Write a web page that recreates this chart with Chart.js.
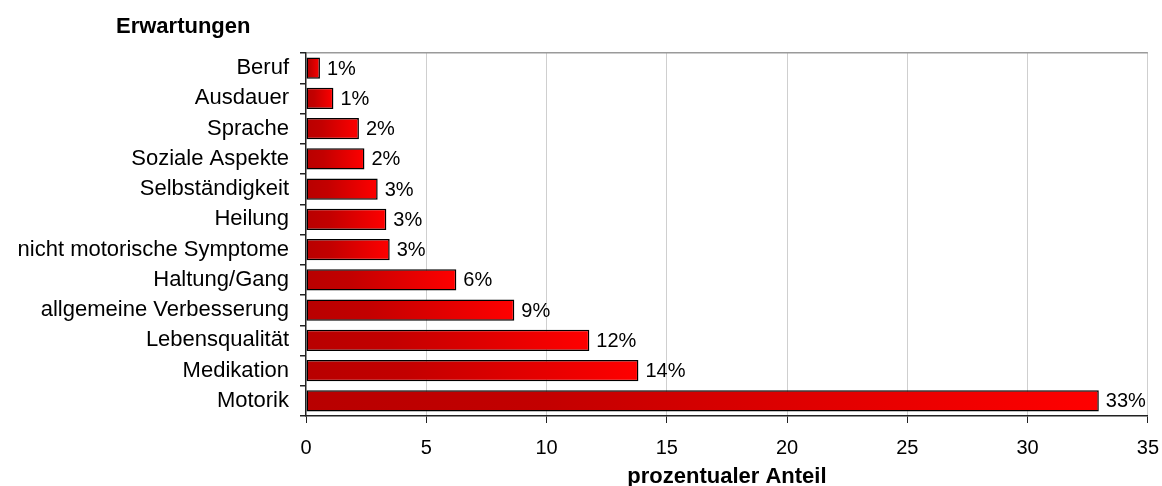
<!DOCTYPE html>
<html lang="de">
<head>
<meta charset="UTF-8" />
<script src="https://cdn.jsdelivr.net/npm/chart.js@4.4.0/dist/chart.umd.min.js"></script>
<title>Erwartungen</title>
<style>
  html, body { margin: 0; padding: 0; background: #fff; }
  #wrap { width: 1162px; height: 486px; }
</style>
</head>
<body>
<div id="wrap"><canvas id="chart" width="1162" height="486"></canvas></div>
<script>
// data (percent)
const categories = ['Beruf', 'Ausdauer', 'Sprache', 'Soziale Aspekte', 'Selbständigkeit', 'Heilung',
  'nicht motorische Symptome', 'Haltung/Gang', 'allgemeine Verbesserung', 'Lebensqualität', 'Medikation', 'Motorik'];
const anteil = [0.58, 1.14, 2.2, 2.43, 2.98, 3.34, 3.48, 6.25, 8.66, 11.78, 13.82, 32.96];
const chartTitle = 'Erwartungen';
const axisTitle = 'prozentualer Anteil';

const FONT = "Arial, 'Liberation Sans', sans-serif";

// gradient for each bar, dark on the left, bright red at the end
function barGradient(ctx) {
  const chart = ctx.chart;
  const x = chart.scales && chart.scales.x;
  if (!x || ctx.raw === undefined || !chart.chartArea) return '#d00000';
  const x0 = x.getPixelForValue(0);
  const x1 = x.getPixelForValue(ctx.raw);
  if (!isFinite(x0) || !isFinite(x1) || x1 - x0 < 1) return '#d00000';
  const g = chart.ctx.createLinearGradient(x0, 0, x1, 0);
  g.addColorStop(0, '#b80000');
  g.addColorStop(0.3, '#c30000');
  g.addColorStop(1, '#ff0000');
  return g;
}

// percent labels next to the bars
const valueLabels = {
  id: 'valueLabels',
  afterDatasetsDraw(chart) {
    const c = chart.ctx;
    const meta = chart.getDatasetMeta(0);
    c.save();
    c.font = '20px ' + FONT;
    c.fillStyle = '#000';
    c.textBaseline = 'middle';
    c.textAlign = 'left';
    meta.data.forEach((bar, i) => {
      c.fillText(Math.round(anteil[i]) + '%', bar.x + 7, bar.y + 1);
    });
    c.restore();
  }
};

// chart heading in the top left
const heading = {
  id: 'heading',
  afterDraw(chart) {
    const c = chart.ctx;
    c.save();
    c.font = 'bold 22px ' + FONT;
    c.fillStyle = '#000';
    c.textBaseline = 'middle';
    c.textAlign = 'left';
    c.fillText(chartTitle, 116, 27);
    c.restore();
  }
};

new Chart(document.getElementById('chart'), {
  type: 'bar',
  data: {
    labels: categories,
    datasets: [{
      data: anteil,
      backgroundColor: barGradient,
      borderColor: '#000',
      borderWidth: 1.5,
      borderSkipped: false,
      categoryPercentage: 1,
      barPercentage: 0.7
    }]
  },
  options: {
    indexAxis: 'y',
    responsive: false,
    animation: false,
    layout: { padding: { top: 53, right: 8, bottom: 0, left: 0 } },
    plugins: {
      legend: { display: false },
      tooltip: { enabled: false }
    },
    scales: {
      x: {
        min: 0,
        max: 35,
        // tick padding also pads the right edge, so the labels are pushed down with lineHeight
        ticks: { stepSize: 5, color: '#000', font: { family: FONT, size: 20, lineHeight: 2.2 }, padding: 3 },
        grid: {
          color: c => (c.tick && c.tick.value === 0) ? 'rgba(0,0,0,0)' : '#cfcfcf',
          lineWidth: 1,
          tickColor: '#222',
          tickLength: 7
        },
        border: { color: '#222', width: 1.5 },
        title: {
          display: true,
          text: axisTitle,
          color: '#000',
          font: { family: FONT, size: 22, weight: 'bold', lineHeight: 1 },
          padding: { top: 0, bottom: -2 }
        },
        afterFit: s => { s.height = 70; }
      },
      y: {
        ticks: { color: '#000', font: { family: FONT, size: 22 }, padding: 11 },
        grid: {
          offset: true,
          color: c => c.index === 0 ? '#9a9a9a' : 'rgba(0,0,0,0)',
          lineWidth: 1.5,
          tickColor: '#222',
          tickLength: 6
        },
        border: { color: '#222', width: 1.5 },
        afterFit: s => { s.width = 306; }
      }
    }
  },
  plugins: [valueLabels, heading]
});
</script>
</body>
</html>
